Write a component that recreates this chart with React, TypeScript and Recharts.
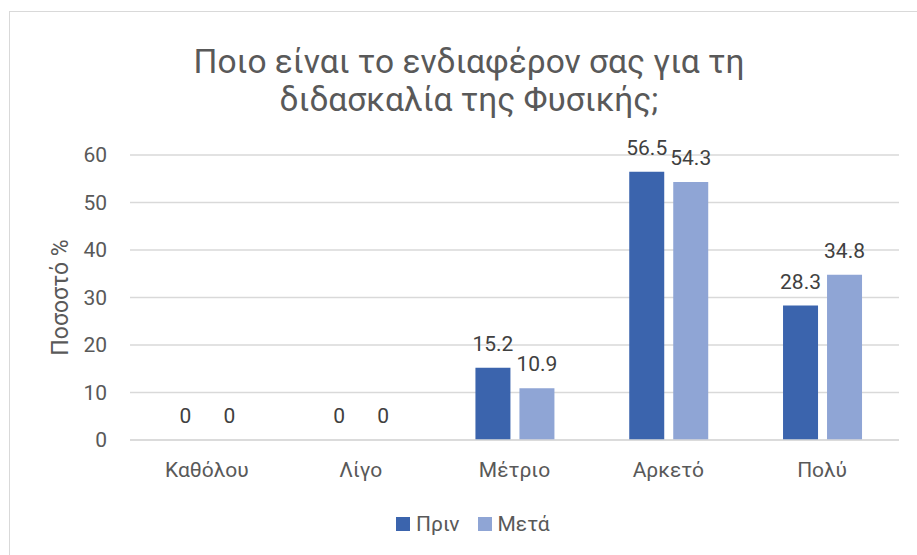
import { Bar, BarChart, CartesianGrid, LabelList, XAxis, YAxis } from "recharts";

const categories = ["Καθόλου", "Λίγο", "Μέτριο", "Αρκετό", "Πολύ"];
const before = [0, 0, 15.2, 56.5, 28.3];
const after = [0, 0, 10.9, 54.3, 34.8];
const yTicks = [0, 10, 20, 30, 40, 50, 60];
const seriesNames = ["Πριν", "Μετά"];

const COLORS = {
  before: "#3B64AD",
  after: "#8FA5D5",
  grid: "#D9D9D9",
  text: "#595959",
  label: "#404040",
};

const FONT = "Roboto, 'Noto Sans', sans-serif";

const data = categories.map((name, i) => ({ name, before: before[i], after: after[i] }));

function AxisTitle(props: any) {
  const vb = props.viewBox || {};
  const x = vb.x + 60;
  const y = vb.y + vb.height / 2;
  return (
    <text
      x={x}
      y={y}
      transform={`rotate(-90 ${x} ${y})`}
      textAnchor="middle"
      dominantBaseline="central"
      fill={COLORS.text}
      fontSize={23}
      fontFamily={FONT}
    >
      Ποσοστό %
    </text>
  );
}

// Label above each bar, zeros included
function ValueLabel(props: any) {
  const { x, y, width, value } = props;
  if (value == null) return null;
  return (
    <text
      x={Number(x) + Number(width) / 2}
      y={Number(y) - 17}
      textAnchor="middle"
      fill={COLORS.label}
      fontSize={21}
      fontFamily={FONT}
    >
      {value}
    </text>
  );
}

export default function App() {
  const colors = [COLORS.before, COLORS.after];
  return (
    <div style={{ position: "absolute", left: 0, top: 0, width: 917, height: 555, background: "#fff", fontFamily: FONT }}>
      <div
        style={{
          position: "absolute",
          left: 9,
          top: 11,
          width: 907,
          height: 543,
          borderTop: `1px solid ${COLORS.grid}`,
          borderLeft: `1px solid ${COLORS.grid}`,
        }}
      />
      <div
        style={{
          position: "absolute",
          left: 21,
          top: 43,
          width: 896,
          textAlign: "center",
          fontSize: 33.5,
          lineHeight: "38px",
          color: COLORS.text,
        }}
      >
        Ποιο είναι το ενδιαφέρον σας για τη
        <br />
        διδασκαλία της Φυσικής;
      </div>
      <div style={{ position: "absolute", left: 0, top: 0 }}>
        <BarChart
          width={917}
          height={555}
          data={data}
          margin={{ top: 155, right: 18, left: 0, bottom: 85 }}
          barCategoryGap="24.6%"
          barGap={9}
          style={{ fontFamily: FONT }}
        >
          <CartesianGrid vertical={false} stroke={COLORS.grid} strokeWidth={1.3} />
          <XAxis
            dataKey="name"
            height={30}
            axisLine={{ stroke: COLORS.grid, strokeWidth: 1.3 }}
            tickLine={false}
            tickSize={0}
            tickMargin={22}
            tick={{ fontSize: 21, fill: COLORS.text }}
            interval={0}
          />
          <YAxis
            width={130}
            domain={[0, 60]}
            ticks={yTicks}
            axisLine={false}
            tickLine={false}
            tickSize={0}
            tickMargin={23}
            tick={{ fontSize: 21, fill: COLORS.text }}
            label={{ content: <AxisTitle /> }}
          />
          <Bar dataKey="before" name={seriesNames[0]} fill={COLORS.before} minPointSize={0.01} isAnimationActive={false}>
            <LabelList dataKey="before" content={<ValueLabel />} />
          </Bar>
          <Bar dataKey="after" name={seriesNames[1]} fill={COLORS.after} minPointSize={0.01} isAnimationActive={false}>
            <LabelList dataKey="after" content={<ValueLabel />} />
          </Bar>
        </BarChart>
      </div>
      <div
        style={{
          position: "absolute",
          left: 396,
          top: 510,
          display: "flex",
          alignItems: "center",
          gap: 18,
          fontSize: 21,
          color: COLORS.text,
          height: 28,
        }}
      >
        {seriesNames.map((n, i) => (
          <div key={n} style={{ display: "flex", alignItems: "center", gap: 6 }}>
            <span style={{ display: "inline-block", width: 14, height: 14, background: colors[i] }} />
            <span>{n}</span>
          </div>
        ))}
      </div>
    </div>
  );
}
